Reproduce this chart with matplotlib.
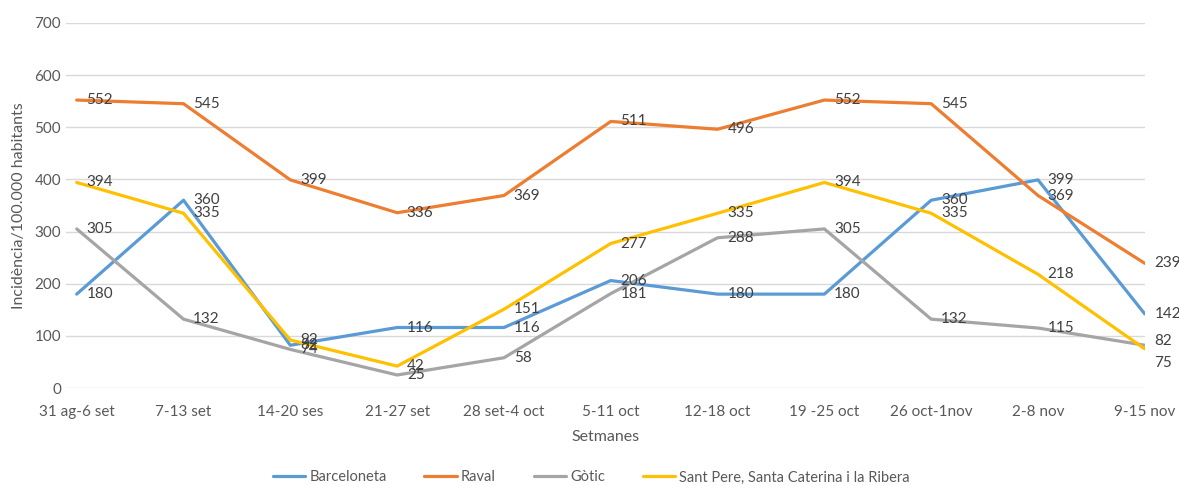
import matplotlib
matplotlib.use("Agg")
import matplotlib.pyplot as plt

weeks = ["31 ag-6 set", "7-13 set", "14-20 ses", "21-27 set", "28 set-4 oct",
         "5-11 oct", "12-18 oct", "19 -25 oct", "26 oct-1nov", "2-8 nov", "9-15 nov"]
barceloneta = [180, 360, 82, 116, 116, 206, 180, 180, 360, 399, 142]
raval = [552, 545, 399, 336, 369, 511, 496, 552, 545, 369, 239]
gotic = [305, 132, 74, 25, 58, 181, 288, 305, 132, 115, 82]
sant_pere = [394, 335, 92, 42, 151, 277, 335, 394, 335, 218, 75]

series = [
    ("Barceloneta", barceloneta, "#5B9BD5"),
    ("Raval", raval, "#ED7D31"),
    ("Gòtic", gotic, "#A5A5A5"),
    ("Sant Pere, Santa Caterina i la Ribera", sant_pere, "#FFC000"),
]

# nudges (points) for the last labels, so they don't sit on top of each other
nudge = {("Gòtic", 10): 3, ("Sant Pere, Santa Caterina i la Ribera", 10): -10}

plt.rcParams["font.family"] = ["Lato", "DejaVu Sans"]
txt = "#595959"

fig = plt.figure(figsize=(11.79, 4.86), dpi=100)
ax = fig.add_axes([0.056, 0.2016, 0.915, 0.7514])

x = list(range(len(weeks)))
for name, vals, col in series:
    ax.plot(x, vals, color=col, lw=2.3, label=name, solid_capstyle="round")
for name, vals, col in series:
    for xi, v in zip(x, vals):
        dy = nudge.get((name, xi), 0)
        ax.annotate(str(v), (xi, v), xytext=(7, dy), textcoords="offset points",
                    ha="left", va="center", fontsize=11, color="#404040")

ax.set_ylim(0, 700)
ax.set_yticks(range(0, 701, 100))
ax.set_xlim(-0.1, 10)
ax.set_xticks(x)
ax.set_xticklabels(weeks)
ax.grid(axis="y", color="#D9D9D9", lw=1)
ax.set_axisbelow(True)
for s in ax.spines.values():
    s.set_visible(False)
ax.tick_params(length=0, colors=txt, labelsize=11)
ax.tick_params(axis="x", pad=12)
ax.set_xlabel("Setmanes", color=txt, fontsize=11.5, labelpad=8)
ax.set_ylabel("Incidència/100.000 habitants", color=txt, fontsize=11.5, labelpad=6)

ax.legend(loc="center", bbox_to_anchor=(0.487, -0.245), ncol=4, frameon=False,
          fontsize=10.5, labelcolor=txt, handlelength=2.2, columnspacing=2.6,
          handletextpad=0.3, borderpad=0)

fig.savefig("out.png", dpi=100)
